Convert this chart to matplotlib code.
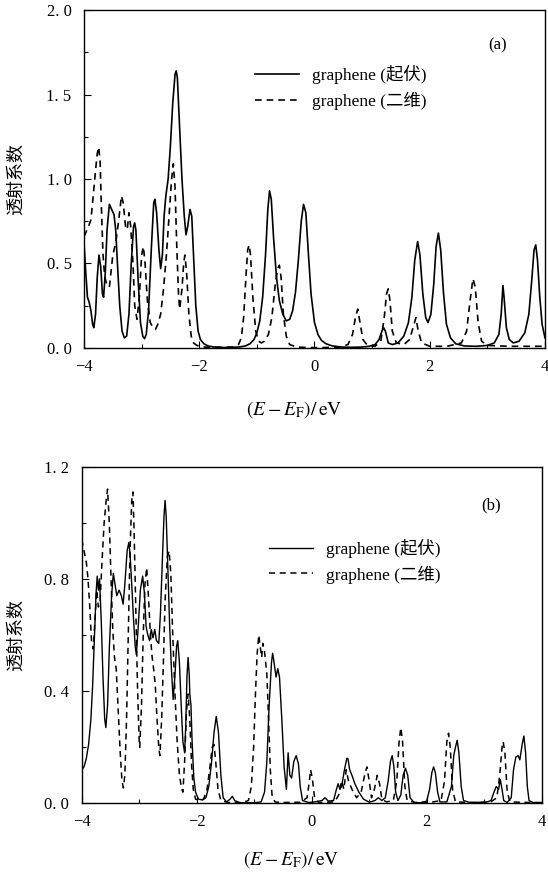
import matplotlib
matplotlib.use("Agg")
import matplotlib.pyplot as plt
from matplotlib.ticker import MultipleLocator, FuncFormatter

plt.rcParams['font.family'] = ['Liberation Serif', 'Noto Sans CJK SC']
plt.rcParams['mathtext.fontset'] = 'stix'

# ---------------- data: panel (a) ----------------
a_solid_x = [-4.00, -3.97, -3.94, -3.91, -3.88, -3.85, -3.83, -3.80, -3.77, -3.74, -3.71, -3.68, -3.66, -3.63,
             -3.60, -3.56, -3.52, -3.48, -3.45, -3.42, -3.38, -3.34, -3.30, -3.26, -3.22, -3.18, -3.14, -3.12,
             -3.10, -3.06, -3.02, -2.98, -2.95, -2.92, -2.88, -2.83, -2.79, -2.77, -2.74, -2.70, -2.67, -2.64,
             -2.61, -2.58, -2.54, -2.50, -2.46, -2.42, -2.40, -2.38, -2.34, -2.30, -2.26, -2.23, -2.20, -2.16,
             -2.13, -2.10, -2.06, -2.02, -1.98, -1.92, -1.85, -1.75, -1.60, -1.45, -1.30, -1.20, -1.12, -1.05,
             -1.00, -0.95, -0.90, -0.85, -0.81, -0.78, -0.75, -0.71, -0.66, -0.61, -0.55, -0.49, -0.43, -0.38,
             -0.33, -0.28, -0.23, -0.19, -0.15, -0.11, -0.06, 0.00, 0.06, 0.12, 0.20, 0.30, 0.45, 0.60, 0.80,
             0.95, 1.05, 1.12, 1.17, 1.20, 1.23, 1.28, 1.35, 1.45, 1.55, 1.63, 1.69, 1.74, 1.79, 1.83, 1.88,
             1.93, 1.97, 2.02, 2.07, 2.11, 2.15, 2.19, 2.24, 2.29, 2.36, 2.45, 2.60, 2.80, 3.00, 3.12, 3.20,
             3.24, 3.27, 3.29, 3.33, 3.38, 3.45, 3.55, 3.65, 3.72, 3.77, 3.81, 3.84, 3.87, 3.91, 3.95, 4.00]
a_solid_y = [0.62, 0.45, 0.30, 0.27, 0.22, 0.14, 0.12, 0.20, 0.42, 0.55, 0.48, 0.32, 0.30, 0.45,
             0.70, 0.85, 0.82, 0.79, 0.70, 0.50, 0.25, 0.10, 0.06, 0.07, 0.20, 0.50, 0.72, 0.74,
             0.70, 0.40, 0.15, 0.07, 0.055, 0.08, 0.22, 0.60, 0.86, 0.88, 0.80, 0.58, 0.47, 0.55,
             0.78, 0.90, 1.00, 1.20, 1.45, 1.62, 1.64, 1.60, 1.30, 1.00, 0.78, 0.67, 0.72, 0.82,
             0.78, 0.55, 0.25, 0.10, 0.05, 0.025, 0.012, 0.006, 0.003, 0.003, 0.006, 0.012, 0.025, 0.05,
             0.09, 0.16, 0.30, 0.55, 0.82, 0.93, 0.88, 0.65, 0.42, 0.28, 0.20, 0.16, 0.17, 0.22,
             0.33, 0.52, 0.75, 0.85, 0.80, 0.58, 0.32, 0.15, 0.08, 0.045, 0.025, 0.013, 0.006, 0.004, 0.005,
             0.01, 0.02, 0.05, 0.10, 0.12, 0.10, 0.03, 0.02, 0.03, 0.07, 0.15, 0.30, 0.52, 0.63, 0.55, 0.32,
             0.18, 0.15, 0.20, 0.38, 0.60, 0.68, 0.58, 0.32, 0.14, 0.06, 0.025, 0.012, 0.010, 0.015, 0.03, 0.08,
             0.20, 0.37, 0.30, 0.12, 0.05, 0.03, 0.04, 0.09, 0.20, 0.40, 0.58, 0.61, 0.52, 0.30, 0.14, 0.06]

a_dash_x = [-4.00, -3.96, -3.92, -3.88, -3.84, -3.80, -3.77, -3.745, -3.72, -3.70, -3.67, -3.64, -3.60, -3.56,
            -3.50, -3.45, -3.40, -3.35, -3.32, -3.28, -3.25, -3.22, -3.19, -3.15, -3.12, -3.08, -3.04, -3.00,
            -2.97, -2.94, -2.90, -2.85, -2.80, -2.76, -2.72, -2.67, -2.62, -2.57, -2.52, -2.48, -2.45, -2.42,
            -2.39, -2.36, -2.34, -2.30, -2.27, -2.25, -2.22, -2.18, -2.14, -2.10, -2.04, -1.90, -1.60, -1.40,
            -1.32, -1.27, -1.23, -1.19, -1.16, -1.135, -1.11, -1.07, -1.02, -0.97, -0.92, -0.87, -0.80, -0.74,
            -0.68, -0.64, -0.61, -0.58, -0.54, -0.49, -0.43, -0.30, 0.00, 0.40, 0.58, 0.66, 0.71, 0.75, 0.79,
            0.84, 0.92, 1.05, 1.15, 1.21, 1.25, 1.28, 1.31, 1.35, 1.42, 1.55, 1.65, 1.71, 1.76, 1.80, 1.86,
            2.00, 2.30, 2.55, 2.64, 2.70, 2.75, 2.79, 2.84, 2.90, 3.00, 3.40, 3.80, 4.00]
a_dash_y = [0.66, 0.69, 0.72, 0.76, 0.90, 1.05, 1.15, 1.19, 1.10, 0.85, 0.55, 0.42, 0.37, 0.36,
            0.55, 0.62, 0.75, 0.90, 0.86, 0.72, 0.70, 0.80, 0.72, 0.50, 0.25, 0.17, 0.30, 0.55,
            0.60, 0.50, 0.28, 0.15, 0.12, 0.11, 0.14, 0.20, 0.35, 0.55, 0.80, 1.00, 1.09, 0.95,
            0.60, 0.32, 0.23, 0.35, 0.50, 0.55, 0.45, 0.20, 0.07, 0.03, 0.015, 0.005, 0.004, 0.006,
            0.02, 0.06, 0.18, 0.42, 0.58, 0.61, 0.55, 0.30, 0.10, 0.04, 0.03, 0.04, 0.08, 0.18,
            0.38, 0.47, 0.49, 0.42, 0.20, 0.07, 0.02, 0.005, 0.002, 0.004, 0.02, 0.08, 0.18, 0.23, 0.15,
            0.05, 0.015, 0.01, 0.04, 0.18, 0.32, 0.35, 0.28, 0.10, 0.03, 0.02, 0.05, 0.12, 0.18, 0.10, 0.03,
            0.01, 0.01, 0.03, 0.10, 0.28, 0.41, 0.36, 0.15, 0.04, 0.015, 0.01, 0.01, 0.01]

# ---------------- data: panel (b) ----------------
b_solid_x = [-4.00, -3.96, -3.92, -3.88, -3.84, -3.81, -3.78, -3.75, -3.73, -3.71, -3.69, -3.66, -3.63, -3.60,
             -3.58, -3.55, -3.52, -3.48, -3.45, -3.42, -3.39, -3.35, -3.31, -3.28, -3.25, -3.21, -3.18, -3.16,
             -3.13, -3.10, -3.07, -3.05, -3.02, -2.98, -2.94, -2.91, -2.88, -2.85, -2.82, -2.79, -2.76, -2.73,
             -2.70, -2.66, -2.63, -2.60, -2.57, -2.55, -2.53, -2.50, -2.47, -2.44, -2.41, -2.38, -2.35, -2.33,
             -2.30, -2.27, -2.24, -2.21, -2.19, -2.17, -2.15, -2.13, -2.12, -2.10, -2.08, -2.05, -2.02, -1.97,
             -1.90, -1.84, -1.79, -1.74, -1.70, -1.66, -1.62, -1.58, -1.54, -1.48, -1.42, -1.38, -1.34, -1.25,
             -1.00, -0.88, -0.82, -0.78, -0.74, -0.70, -0.68, -0.66, -0.62, -0.59, -0.56, -0.52, -0.48, -0.44,
             -0.41, -0.38, -0.35, -0.31, -0.27, -0.23, -0.20, -0.16, -0.05, 0.05, 0.18, 0.23, 0.29, 0.38,
             0.43, 0.46, 0.49, 0.52, 0.57, 0.61, 0.63, 0.66, 0.70, 0.75, 0.82, 0.90, 1.00, 1.10, 1.16, 1.22,
             1.28, 1.33, 1.37, 1.40, 1.43, 1.46, 1.50, 1.55, 1.59, 1.63, 1.67, 1.71, 1.78, 1.90, 2.00, 2.05,
             2.09, 2.12, 2.15, 2.19, 2.23, 2.35, 2.43, 2.47, 2.50, 2.53, 2.56, 2.60, 2.64, 2.75, 2.95, 3.05,
             3.12, 3.17, 3.21, 3.25, 3.28, 3.31, 3.34, 3.40, 3.47, 3.51, 3.55, 3.59, 3.62, 3.66, 3.69, 3.72,
             3.75, 3.78, 3.85, 4.00]
b_solid_y = [0.12, 0.13, 0.16, 0.21, 0.30, 0.42, 0.58, 0.75, 0.81, 0.76, 0.80, 0.65, 0.45, 0.30,
             0.27, 0.35, 0.55, 0.74, 0.82, 0.78, 0.74, 0.76, 0.74, 0.71, 0.78, 0.90, 0.93, 0.89,
             0.78, 0.66, 0.56, 0.53, 0.62, 0.76, 0.81, 0.75, 0.63, 0.60, 0.58, 0.62, 0.59, 0.62,
             0.58, 0.57, 0.68, 0.85, 1.02, 1.08, 1.02, 0.82, 0.63, 0.48, 0.37, 0.45, 0.56, 0.58,
             0.50, 0.35, 0.22, 0.18, 0.28, 0.45, 0.52, 0.46, 0.39, 0.35, 0.22, 0.09, 0.04, 0.015,
             0.012, 0.02, 0.06, 0.15, 0.25, 0.31, 0.25, 0.10, 0.02, 0.005, 0.015, 0.025, 0.01, 0.002,
             0.002, 0.005, 0.04, 0.15, 0.35, 0.50, 0.535, 0.51, 0.45, 0.48, 0.45, 0.30, 0.13, 0.05,
             0.18, 0.10, 0.09, 0.15, 0.17, 0.14, 0.06, 0.01, 0.003, 0.005, 0.01, 0.02, 0.008, 0.01,
             0.05, 0.07, 0.05, 0.06, 0.12, 0.16, 0.16, 0.12, 0.10, 0.07, 0.04, 0.015, 0.004, 0.01, 0.02, 0.01,
             0.02, 0.08, 0.15, 0.17, 0.13, 0.04, 0.01, 0.03, 0.10, 0.125, 0.10, 0.02, 0.003, 0.002, 0.008, 0.05,
             0.11, 0.13, 0.11, 0.04, 0.005, 0.005, 0.06, 0.17, 0.20, 0.225, 0.18, 0.06, 0.01, 0.003, 0.004, 0.005,
             0.01, 0.04, 0.06, 0.05, 0.085, 0.05, 0.01, 0.003, 0.02, 0.12, 0.165, 0.17, 0.155, 0.21, 0.24, 0.18,
             0.06, 0.01, 0.003, 0.002]

b_dash_x = [-4.00, -3.96, -3.92, -3.89, -3.86, -3.83, -3.80, -3.77, -3.74, -3.71, -3.68, -3.65, -3.61, -3.57,
            -3.55, -3.52, -3.49, -3.46, -3.43, -3.40, -3.37, -3.33, -3.30, -3.275, -3.25, -3.22, -3.19, -3.16,
            -3.13, -3.11, -3.09, -3.06, -3.03, -3.00, -2.99, -2.96, -2.93, -2.90, -2.87, -2.84, -2.81, -2.78,
            -2.75, -2.72, -2.69, -2.66, -2.64, -2.61, -2.58, -2.55, -2.51, -2.48, -2.45, -2.42, -2.38, -2.34,
            -2.30, -2.26, -2.24, -2.21, -2.18, -2.15, -2.12, -2.09, -2.06, -2.02, -1.95, -1.88, -1.82, -1.77,
            -1.73, -1.70, -1.67, -1.63, -1.58, -1.45, -1.20, -1.10, -1.05, -1.01, -0.98, -0.95, -0.92, -0.89,
            -0.87, -0.85, -0.82, -0.78, -0.75, -0.72, -0.69, -0.64, -0.50, -0.20, -0.08, -0.04, -0.02, 0.01,
            0.05, 0.12, 0.40, 0.47, 0.52, 0.56, 0.60, 0.64, 0.70, 0.78, 0.86, 0.92, 0.96, 1.00, 1.04, 1.09,
            1.14, 1.18, 1.22, 1.30, 1.42, 1.48, 1.52, 1.55, 1.58, 1.62, 1.66, 1.80, 1.95, 2.05, 2.25, 2.31,
            2.35, 2.38, 2.41, 2.45, 2.50, 2.80, 3.10, 3.22, 3.27, 3.31, 3.33, 3.36, 3.40, 3.45, 3.80, 4.00]
b_dash_y = [0.94, 0.90, 0.86, 0.80, 0.70, 0.58, 0.55, 0.65, 0.76, 0.70, 0.72, 0.85, 1.00, 1.09,
            1.12, 1.00, 0.80, 0.62, 0.52, 0.48, 0.35, 0.18, 0.08, 0.055, 0.10, 0.30, 0.60, 0.90,
            1.08, 1.11, 0.98, 0.70, 0.42, 0.22, 0.20, 0.35, 0.60, 0.78, 0.84, 0.74, 0.62, 0.53,
            0.48, 0.42, 0.30, 0.20, 0.17, 0.30, 0.50, 0.72, 0.88, 0.90, 0.82, 0.62, 0.40, 0.22,
            0.10, 0.05, 0.04, 0.15, 0.32, 0.39, 0.30, 0.14, 0.05, 0.015, 0.01, 0.015, 0.05, 0.13,
            0.20, 0.21, 0.15, 0.05, 0.01, 0.003, 0.003, 0.01, 0.06, 0.20, 0.38, 0.53, 0.60, 0.55,
            0.52, 0.57, 0.54, 0.46, 0.30, 0.12, 0.03, 0.005, 0.003, 0.004, 0.02, 0.08, 0.12, 0.09,
            0.02, 0.003, 0.005, 0.03, 0.08, 0.05, 0.12, 0.08, 0.05, 0.02, 0.04, 0.10, 0.13, 0.08, 0.02, 0.05,
            0.10, 0.07, 0.015, 0.005, 0.01, 0.08, 0.22, 0.27, 0.22, 0.06, 0.01, 0.003, 0.004, 0.003, 0.01, 0.08,
            0.22, 0.25, 0.20, 0.05, 0.005, 0.003, 0.003, 0.02, 0.10, 0.20, 0.22, 0.18, 0.04, 0.005, 0.003, 0.003]

legend_labels = ["graphene (起伏)", "graphene (二维)"]
panel_tags = ["(a)", "(b)"]
ylabel_text = "透射系数"
xlabel_text = r"$(E - E_{\mathrm{F}})/\,\mathrm{eV}$"

fig = plt.figure(figsize=(5.48, 8.73), dpi=100)
ax1 = fig.add_axes([0.1533, 0.6014, 0.8412, 0.3871])
ax2 = fig.add_axes([0.1491, 0.0798, 0.8394, 0.3856])

lw = 1.2
fs = 12

ytick_fmt = FuncFormatter(lambda v, p: ("%.1f" % v).replace(".", ". "))

def style(ax, ymax, major, minor, xl_y, yl_x):
    ax.set_xlim(-4, 4)
    ax.set_ylim(0, ymax)
    ax.xaxis.set_major_locator(MultipleLocator(2))
    ax.xaxis.set_minor_locator(MultipleLocator(1))
    ax.yaxis.set_major_locator(MultipleLocator(major))
    ax.yaxis.set_minor_locator(MultipleLocator(minor))
    ax.yaxis.set_major_formatter(ytick_fmt)
    ax.tick_params(which='both', direction='in', top=False, right=False, labelsize=fs, width=0.8)
    ax.tick_params(which='major', length=5)
    ax.tick_params(which='minor', length=3)
    ax.tick_params(axis='x', which='major', pad=8)
    ax.tick_params(axis='y', which='major', pad=9)
    for s in ax.spines.values():
        s.set_linewidth(1.0)
    ax.set_xlabel(xlabel_text, fontsize=14)
    ax.xaxis.set_label_coords(0.455, xl_y)
    ax.set_ylabel(ylabel_text, fontsize=13, family=['Noto Sans CJK SC'])
    ax.yaxis.set_label_coords(yl_x, 0.5)

# panel (a)
ax1.plot(a_solid_x, a_solid_y, color='black', lw=lw, label=legend_labels[0])
ax1.plot(a_dash_x, a_dash_y, color='black', lw=lw, dashes=(4, 3), label=legend_labels[1])
style(ax1, 2.0, 0.5, 0.25, -0.152, -0.128)
ax1.text(0.898, 0.895, panel_tags[0], transform=ax1.transAxes, fontsize=fs, ha='center', va='center')
ax1.legend(loc='upper left', bbox_to_anchor=(0.355, 0.857), frameon=False, fontsize=12.5,
           handlelength=2.55, handletextpad=0.75, labelspacing=0.42, borderaxespad=0)

# panel (b)
ax2.plot(b_solid_x, b_solid_y, color='black', lw=1.0, label=legend_labels[0])
ax2.plot(b_dash_x, b_dash_y, color='black', lw=1.1, dashes=(4, 3), label=legend_labels[1])
style(ax2, 1.2, 0.4, 0.2, -0.135, -0.124)
ax2.text(0.89, 0.885, panel_tags[1], transform=ax2.transAxes, fontsize=fs, ha='center', va='center')
ax2.legend(loc='upper left', bbox_to_anchor=(0.392, 0.806), frameon=False, fontsize=12.5,
           handlelength=2.55, handletextpad=0.75, labelspacing=0.42, borderaxespad=0)

fig.savefig("out.png", dpi=100)
